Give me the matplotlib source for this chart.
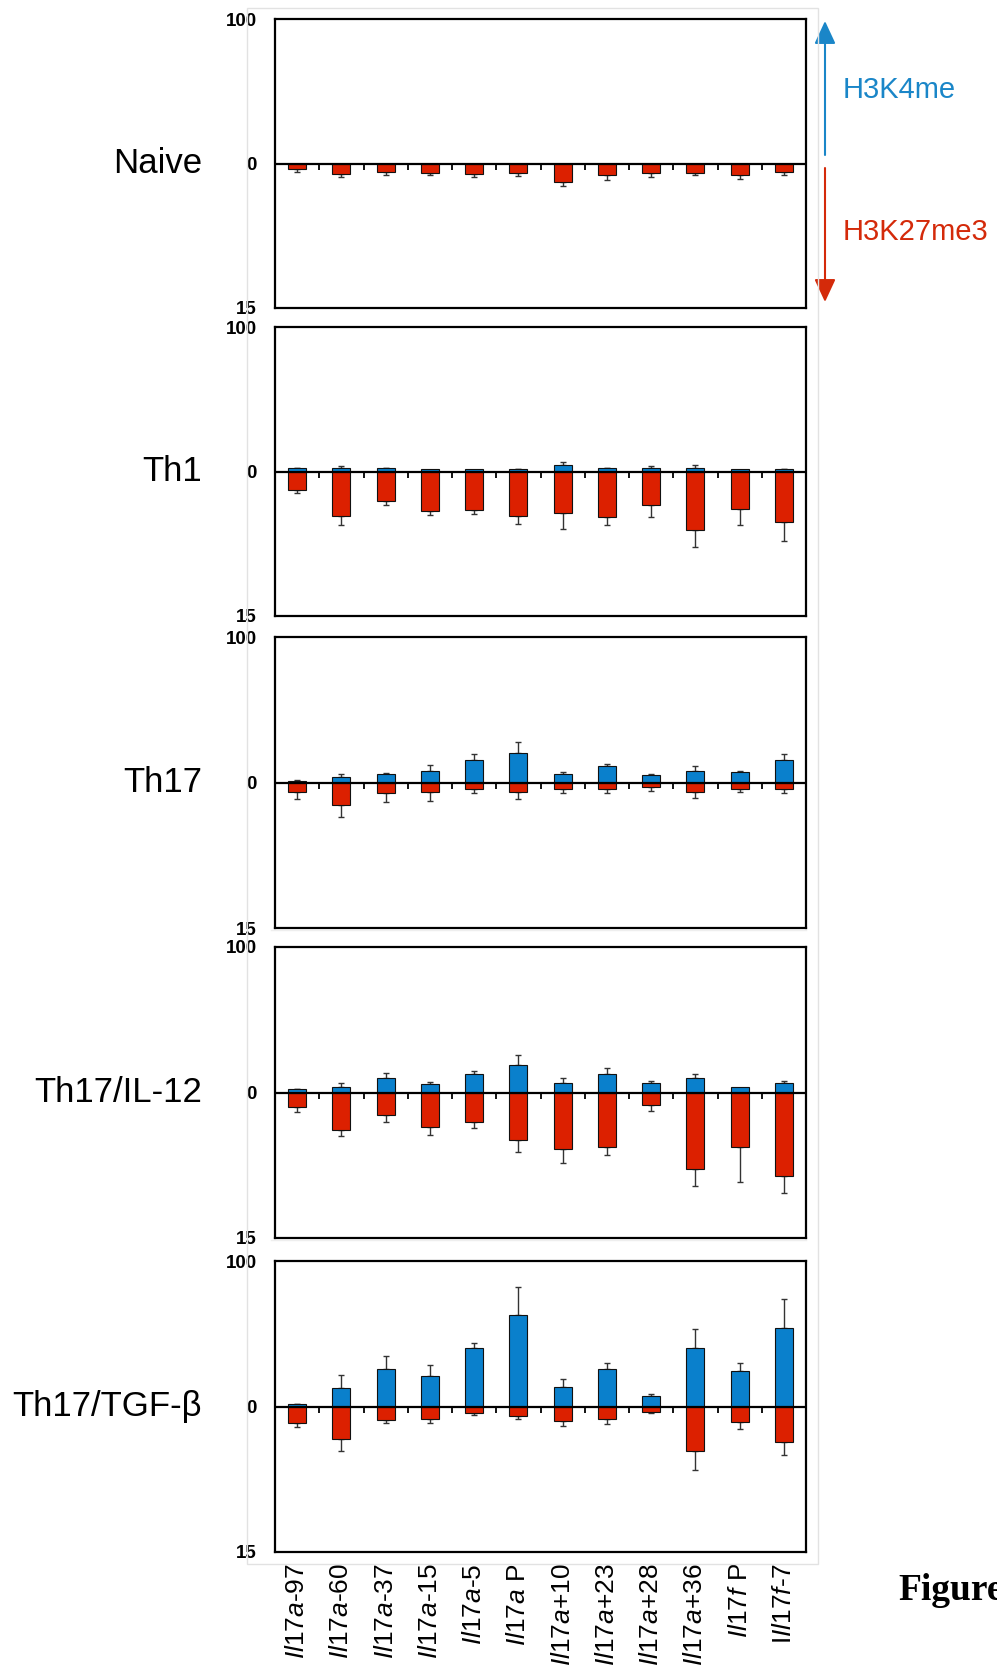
import numpy as np
import matplotlib
matplotlib.use("Agg")
import matplotlib.pyplot as plt
from matplotlib.ticker import NullLocator
from matplotlib import markers
from matplotlib.patches import Rectangle
from matplotlib.lines import Line2D

plt.rcParams['font.family'] = ['Liberation Sans', 'DejaVu Sans']
plt.rcParams['mathtext.fontset'] = 'custom'
plt.rcParams['mathtext.it'] = 'Liberation Sans:italic'
plt.rcParams['mathtext.rm'] = 'Liberation Sans'

# ---------------- data ----------------
genes = ["Il17a", "Il17a", "Il17a", "Il17a", "Il17a", "Il17a", "Il17a", "Il17a",
         "Il17a", "Il17a", "Il17f", "Il17f"]
suffixes = ["-97", "-60", "-37", "-15", "-5", " P", "+10", "+23", "+28", "+36", " P", "-7"]
prefixes = ["", "", "", "", "", "", "", "", "", "", "", "I"]

panels = ["Naive", "Th1", "Th17", "Th17/IL-12", "Th17/TGF-β"]

naive_k4 = [0, 0, 0, 0, 0, 0, 0, 0, 0, 0, 0, 0]
naive_k4_err = [0, 0, 0, 0, 0, 0, 0, 0, 0, 0, 0, 0]
naive_k27 = [0.62, 1.14, 0.86, 0.97, 1.04, 0.97, 1.94, 1.17, 0.97, 0.97, 1.17, 0.86]
naive_k27_err = [0.24, 0.24, 0.34, 0.23, 0.34, 0.34, 0.36, 0.59, 0.41, 0.20, 0.42, 0.31]

th1_k4 = [2.1, 2.1, 2.1, 1.6, 1.6, 1.6, 4.8, 2.1, 2.3, 2.3, 1.6, 1.6]
th1_k4_err = [0.3, 1.4, 0.2, 0, 0, 0.3, 1.7, 0.3, 1.2, 2.1, 0, 0.3]
th1_k27 = [1.97, 4.64, 3.08, 4.05, 3.98, 4.57, 4.26, 4.75, 3.46, 6.03, 3.91, 5.27]
th1_k27_err = [0.23, 0.96, 0.42, 0.42, 0.42, 0.83, 1.70, 0.85, 1.22, 1.77, 1.69, 1.97]

th17_k4 = [1.1, 3.7, 5.5, 7.6, 15.8, 20.4, 5.5, 11.2, 5.0, 7.6, 7.1, 15.3]
th17_k4_err = [0.7, 1.8, 1.1, 4.5, 3.9, 7.3, 1.8, 1.8, 0.5, 3.8, 0.5, 4.4]
th17_k27 = [1.03, 2.27, 1.10, 1.03, 0.62, 0.93, 0.69, 0.62, 0.51, 0.93, 0.69, 0.69]
th17_k27_err = [0.62, 1.27, 0.96, 0.86, 0.48, 0.72, 0.41, 0.48, 0.35, 0.68, 0.24, 0.41]

il12_k4 = [2.1, 4.1, 10.3, 5.5, 13.0, 19.0, 6.6, 13.0, 6.6, 9.8, 3.7, 6.2]
il12_k4_err = [0.4, 2.5, 3.2, 1.8, 2.1, 6.9, 3.2, 3.5, 1.0, 3.0, 0, 1.4]
il12_k27 = [1.54, 3.91, 2.27, 3.54, 2.99, 4.91, 5.84, 5.6, 1.24, 7.93, 5.66, 8.58]
il12_k27_err = [0.42, 0.55, 0.72, 0.82, 0.65, 1.20, 1.40, 0.89, 0.65, 1.68, 3.61, 1.82]

tgf_k4 = [1.4, 12.6, 25.5, 21.1, 40.1, 62.8, 13.5, 25.5, 7.3, 40.1, 24.5, 53.7]
tgf_k4_err = [0.2, 9.0, 8.9, 7.1, 3.5, 19.1, 5.1, 4.1, 1.4, 12.9, 5.1, 19.9]
tgf_k27 = [1.75, 3.34, 1.41, 1.31, 0.62, 1.0, 1.51, 1.31, 0.52, 4.58, 1.62, 3.68]
tgf_k27_err = [0.38, 1.24, 0.24, 0.34, 0.24, 0.27, 0.49, 0.51, 0.13, 1.99, 0.75, 1.31]

k4_sets = [naive_k4, th1_k4, th17_k4, il12_k4, tgf_k4]
k4_errs = [naive_k4_err, th1_k4_err, th17_k4_err, il12_k4_err, tgf_k4_err]
k27_sets = [naive_k27, th1_k27, th17_k27, il12_k27, tgf_k27]
k27_errs = [naive_k27_err, th1_k27_err, th17_k27_err, il12_k27_err, tgf_k27_err]

y_top_max = 100
y_bot_max = 15

# ---------------- style ----------------
BLUE = "#0a80cc"
RED = "#dc2000"
ARROW_BLUE = "#1a86c8"
ARROW_RED = "#d42a0a"

W, H = 997, 1671
fig = plt.figure(figsize=(W / 100, H / 100), dpi=100)


def fwd(y):
    y = np.asarray(y, dtype=float)
    return np.where(y >= 0, y / y_top_max, y / y_bot_max)


def inv(u):
    u = np.asarray(u, dtype=float)
    return np.where(u >= 0, u * y_top_max, u * y_bot_max)


left_px, right_px = 275, 806
tops = [19, 327, 637, 947, 1261]
bots = [308, 616, 928, 1238, 1552]

# faint outer frame
fig.add_artist(Rectangle((247 / W, 1 - 1564 / H), (818 - 247) / W, (1564 - 8) / H,
                         transform=fig.transFigure, fill=False, edgecolor="#e2e2e2", lw=1))
for yy in (930, 1240):
    fig.add_artist(Line2D([271 / W, 806 / W], [1 - yy / H, 1 - yy / H],
                          transform=fig.transFigure, color="#eeeeee", lw=1))

n = len(suffixes)
x = np.arange(n)
bar_w = 0.41
labels = [f"{p}$\\it{{{g}}}${s}" for p, g, s in zip(prefixes, genes, suffixes)]

axes = []
for i, name in enumerate(panels):
    ax = fig.add_axes([left_px / W, 1 - bots[i] / H, (right_px - left_px) / W,
                       (bots[i] - tops[i]) / H])
    axes.append(ax)
    ax.set_yscale('function', functions=(fwd, inv))
    ax.set_ylim(-y_bot_max, y_top_max)
    ax.set_xlim(-0.5, n - 0.5)

    k4 = np.array(k4_sets[i])
    k27 = -np.array(k27_sets[i])
    ax.bar(x, k4, width=bar_w, color=BLUE, edgecolor="#111111", lw=0.8, zorder=3)
    ax.bar(x, k27, width=bar_w, color=RED, edgecolor="#111111", lw=0.8, zorder=3)
    e4 = np.array(k4_errs[i])
    e27 = np.array(k27_errs[i])
    m4 = e4 > 0
    ax.errorbar(x[m4], k4[m4], yerr=[np.zeros(m4.sum()), e4[m4]], fmt='none',
                ecolor="#333333", elinewidth=1.0, capsize=2.5, capthick=1.0, zorder=2)
    m27 = e27 > 0
    ax.errorbar(x[m27], k27[m27], yerr=[e27[m27], np.zeros(m27.sum())], fmt='none',
                ecolor="#333333", elinewidth=1.0, capsize=2.5, capthick=1.0, zorder=2)

    ax.axhline(0, color="black", lw=1.6, zorder=4)
    bounds = np.arange(n - 1) + 0.5
    ax.plot(bounds, np.zeros(len(bounds)), linestyle='none', marker=markers.TICKDOWN,
            markersize=4, markeredgewidth=1.3, color="black", zorder=4)

    for sp in ax.spines.values():
        sp.set_linewidth(1.6)
        sp.set_color("black")

    ax.set_yticks([-y_bot_max, 0, y_top_max])
    ax.set_yticklabels([str(y_bot_max), "0", str(y_top_max)], fontweight='bold', fontsize=13.5)
    ax.yaxis.set_minor_locator(NullLocator())
    ax.tick_params(axis='y', length=0, pad=13)

    ax.set_xticks(x)
    if i == len(panels) - 1:
        ax.set_xticklabels(labels, rotation=90, fontsize=19)
        ax.tick_params(axis='x', length=0, pad=8)
    else:
        ax.set_xticklabels([])
        ax.tick_params(axis='x', length=0)

    ax.annotate(name, xy=(0, 0.5), xycoords='axes fraction', xytext=(-73, 0),
                textcoords='offset pixels', ha='right', va='center', fontsize=25)

# arrows and legend text on the right
ax0 = axes[0]
ax0.annotate('', xy=(825, H - 21), xycoords='figure pixels', xytext=(825, H - 155),
             textcoords='figure pixels',
             arrowprops=dict(arrowstyle='-|>,head_length=1.4,head_width=0.65',
                             mutation_scale=10, color=ARROW_BLUE, lw=1.5,
                             shrinkA=0, shrinkB=0))
ax0.annotate('', xy=(825, H - 302), xycoords='figure pixels', xytext=(825, H - 168),
             textcoords='figure pixels',
             arrowprops=dict(arrowstyle='-|>,head_length=1.4,head_width=0.65',
                             mutation_scale=10, color=ARROW_RED, lw=1.5,
                             shrinkA=0, shrinkB=0))
fig.text(843 / W, 1 - 90 / H, "H3K4me", color=ARROW_BLUE, fontsize=21, ha='left', va='center')
fig.text(843 / W, 1 - 232 / H, "H3K27me3", color=ARROW_RED, fontsize=21, ha='left', va='center')

fig.text(898 / W, 1 - 1600 / H, "Figure", fontsize=27, fontweight='bold',
         family='Liberation Serif', ha='left', va='baseline')

fig.savefig("out.png", dpi=100)
